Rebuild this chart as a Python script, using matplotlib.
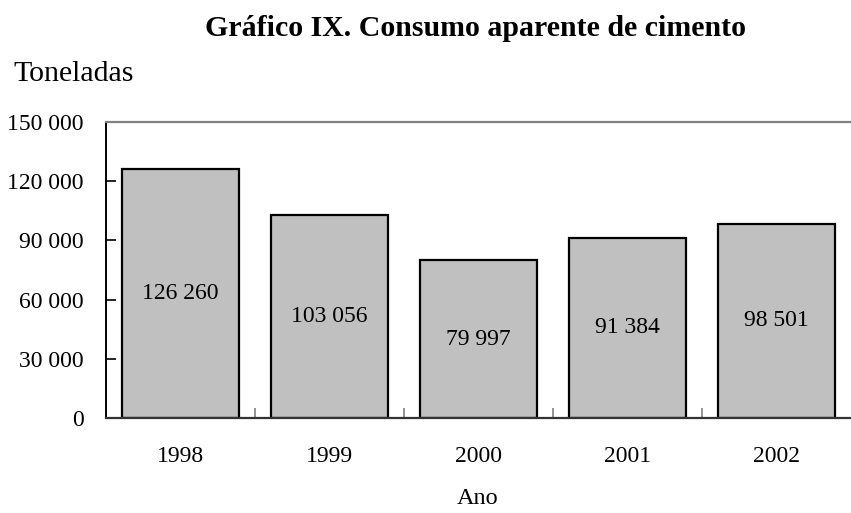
import matplotlib.pyplot as plt
import numpy as np

years = ["1998", "1999", "2000", "2001", "2002"]
consumo = [126260, 103056, 79997, 91384, 98501]
yticks = [0, 30000, 60000, 90000, 120000, 150000]


def fmt(v):
    return f"{v:,}".replace(",", " ")


plt.rcParams["font.family"] = ["Liberation Serif", "DejaVu Serif"]

fig = plt.figure(figsize=(8.51, 5.13), dpi=100)
ax = fig.add_axes([106 / 851, 1 - 418 / 513, 745 / 851, 296 / 513])

x = np.arange(len(years))
ax.bar(x, consumo, width=0.78, color="#c0c0c0", edgecolor="black", linewidth=1.6)

for xi, v in zip(x, consumo):
    ax.text(xi, v / 2, fmt(v), ha="center", va="center", fontsize=17)

ax.set_xlim(-0.5, len(years) - 0.5)
ax.set_ylim(0, 150000)
ax.set_yticks(yticks)
ax.set_yticklabels([fmt(t) for t in yticks], fontsize=17)
ax.set_xticks(x)
ax.set_xticklabels(years, fontsize=17)
ax.set_xticks(x[:-1] + 0.5, minor=True)

ax.tick_params(axis="x", which="major", length=0, pad=20)
ax.tick_params(axis="x", which="minor", direction="in", length=7, color="#808080", width=1.2)
ax.tick_params(axis="y", direction="in", length=7, width=1.2, pad=16, color="black")

ax.spines["right"].set_visible(False)
ax.spines["top"].set_color("#808080")
ax.spines["top"].set_linewidth(1.6)
ax.spines["left"].set_linewidth(1.4)
ax.spines["bottom"].set_linewidth(1.6)
ax.spines["bottom"].set_color("#333333")

fig.text(478 / 851, 1 - 499 / 513, "Ano", ha="center", va="center", fontsize=17.5)
fig.text(476 / 851, 1 - 28 / 513, "Gráfico IX. Consumo aparente de cimento",
         ha="center", va="center", fontsize=21.5, fontweight="bold")
fig.text(13 / 851, 1 - 74 / 513, "Toneladas", ha="left", va="center", fontsize=21.5)

fig.savefig("out.png", dpi=100)
